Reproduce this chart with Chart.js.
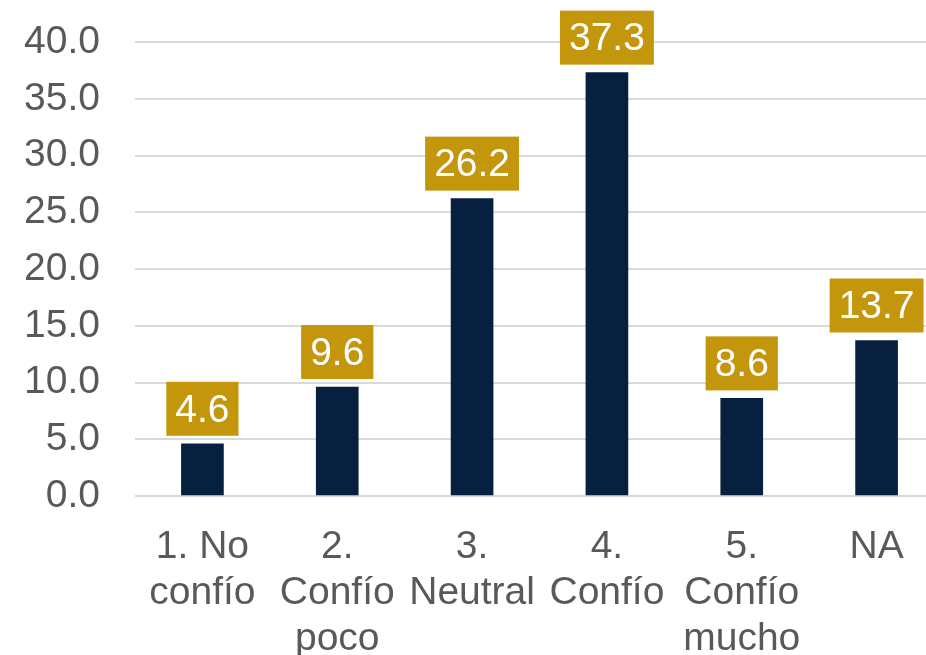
<!DOCTYPE html>
<html>
<head>
<meta charset="utf-8">
<script src="https://cdn.jsdelivr.net/npm/chart.js@4/dist/chart.umd.min.js"></script>
<style>
html,body{margin:0;padding:0;background:#fff;overflow:hidden;}
#wrap{width:926px;height:655px;overflow:hidden;}
</style>
</head>
<body>
<div id="wrap"><canvas id="c" width="944" height="655"></canvas></div>
<script>
const categories = [["1. No","confío"],["2.","Confío","poco"],["3.","Neutral"],["4.","Confío"],["5.","Confío","mucho"],["NA"]];
const values = [4.6, 9.6, 26.2, 37.3, 8.6, 13.7];
const yTicks = [0,5,10,15,20,25,30,35,40];

const FONT = "'Liberation Sans', Arial, sans-serif";

const labelPlugin = {
  id: 'boxLabels',
  afterDatasetsDraw(chart) {
    const ctx = chart.ctx;
    const meta = chart.getDatasetMeta(0);
    ctx.save();
    ctx.font = "39px " + FONT;
    ctx.textAlign = 'center';
    ctx.textBaseline = 'middle';
    meta.data.forEach((bar, i) => {
      const txt = values[i].toFixed(1);
      const w = ctx.measureText(txt).width + 18;
      const h = 54;
      const bottom = bar.y - 8;
      ctx.fillStyle = '#C4960C';
      ctx.fillRect(bar.x - w/2, bottom - h, w, h);
      ctx.fillStyle = '#FFFFFF';
      ctx.fillText(txt, bar.x, bottom - h/2 + 2);
    });
    ctx.restore();
  }
};

new Chart(document.getElementById('c'), {
  type: 'bar',
  data: {
    labels: categories,
    datasets: [{
      data: values,
      backgroundColor: '#08203F',
      barThickness: 42
    }]
  },
  options: {
    responsive: false,
    animation: false,
    devicePixelRatio: 1,
    layout: { padding: { top: 42, right: 0, left: 0, bottom: 0 } },
    plugins: { legend: { display: false }, tooltip: { enabled: false } },
    scales: {
      x: {
        grid: { display: false },
        border: { display: false },
        ticks: {
          color: '#595959',
          font: { family: FONT, size: 39, lineHeight: 1.18 },
          padding: 20,
          maxRotation: 0,
          autoSkip: false
        },
        afterFit(s) { s.height = 159; s.paddingLeft = 0; s.paddingRight = 0; }
      },
      y: {
        min: 0, max: 40,
        afterBuildTicks(s) { s.ticks = yTicks.map(v => ({ value: v })); },
        grid: { color: '#D9D9D9', lineWidth: 2, drawTicks: false },
        border: { display: false },
        ticks: {
          color: '#595959',
          font: { family: FONT, size: 39 },
          padding: 35,
          callback: v => Number(v).toFixed(1)
        },
        afterFit(s) { s.width = 135; s.paddingTop = 0; s.paddingBottom = 0; }
      }
    }
  },
  plugins: [labelPlugin]
});
</script>
</body>
</html>
